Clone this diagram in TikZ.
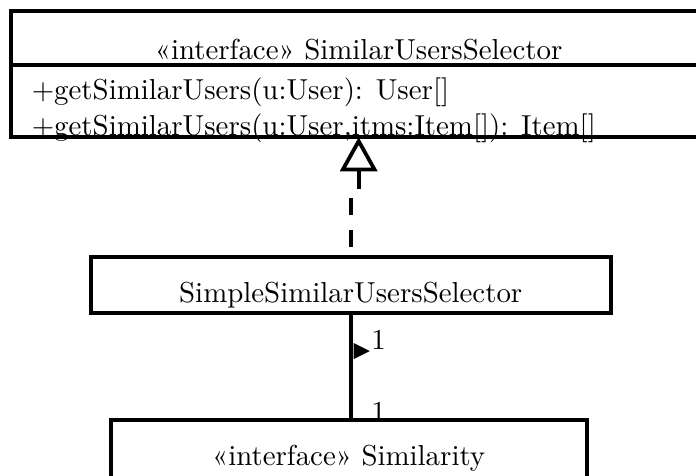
\documentclass[tikz,border=0pt]{standalone}
\usetikzlibrary{positioning,arrows.meta}

\tikzset{
  classbox/.style={draw, line width=1.3pt, inner sep=0pt, outer sep=0pt, text depth=0pt},
  method/.style={inner sep=0pt, anchor=base west},
  realize/.style={line width=1.3pt, -{Triangle[open,length=11.8pt,width=12.8pt]}},
  dashline/.style={line width=1.3pt, dash pattern=on 6pt off 5pt, dash phase=7.5pt},
  assoc/.style={line width=1.3pt},
  mult/.style={inner sep=0pt}
}

\begin{document}
\begin{tikzpicture}
  \useasboundingbox (0,0) rectangle (241pt,164.5pt);
  % Define nodes
  \node[classbox, minimum width=241pt, minimum height=18.7pt, text height=14.7pt] (selector) at (124.2pt,151.35pt) {«interface» SimilarUsersSelector};
  \node[classbox, below=0pt of selector, minimum width=241pt, minimum height=25pt] (selectorops) {};
  \node[method] (getusers) at ([xshift=7.1pt,yshift=-12.1pt]selectorops.north west) {+getSimilarUsers(u:User): User[]};
  \node[method] (getitems) at ([xshift=7.1pt,yshift=-24.3pt]selectorops.north west) {+getSimilarUsers(u:User,itms:Item[]): Item[]};
  \node[classbox, below=41.5pt of selectorops, xshift=-2.75pt, minimum width=180.1pt, minimum height=19.4pt, text height=11.8pt] (simple) {SimpleSimilarUsersSelector};
  \node[classbox, below=37.05pt of simple, xshift=-0.7pt, minimum width=164.8pt, minimum height=24pt, text height=7.2pt] (similarity) {«interface» Similarity};
  \coordinate[below=18.1pt of selectorops.south] (stub);
  \coordinate[above=21.7pt of simple.north] (dashtop);
  % Connect the nodes
  \draw[dashline] (simple.north) -- (dashtop);
  \draw[realize] (stub) -- (selectorops.south);
  \draw[assoc] (simple.south) -- node[mult, pos=0.25, right=6.5pt] (srcmult) {1}
    coordinate[pos=0.355] (navmark)
    node[mult, pos=0.925, right=6.5pt] (dstmult) {1} (simple.south |- similarity.north);
  \fill ([xshift=1pt,yshift=2.8pt]navmark) -- ([xshift=6.6pt]navmark) -- ([xshift=1pt,yshift=-2.8pt]navmark) -- cycle;
\end{tikzpicture}
\end{document}
